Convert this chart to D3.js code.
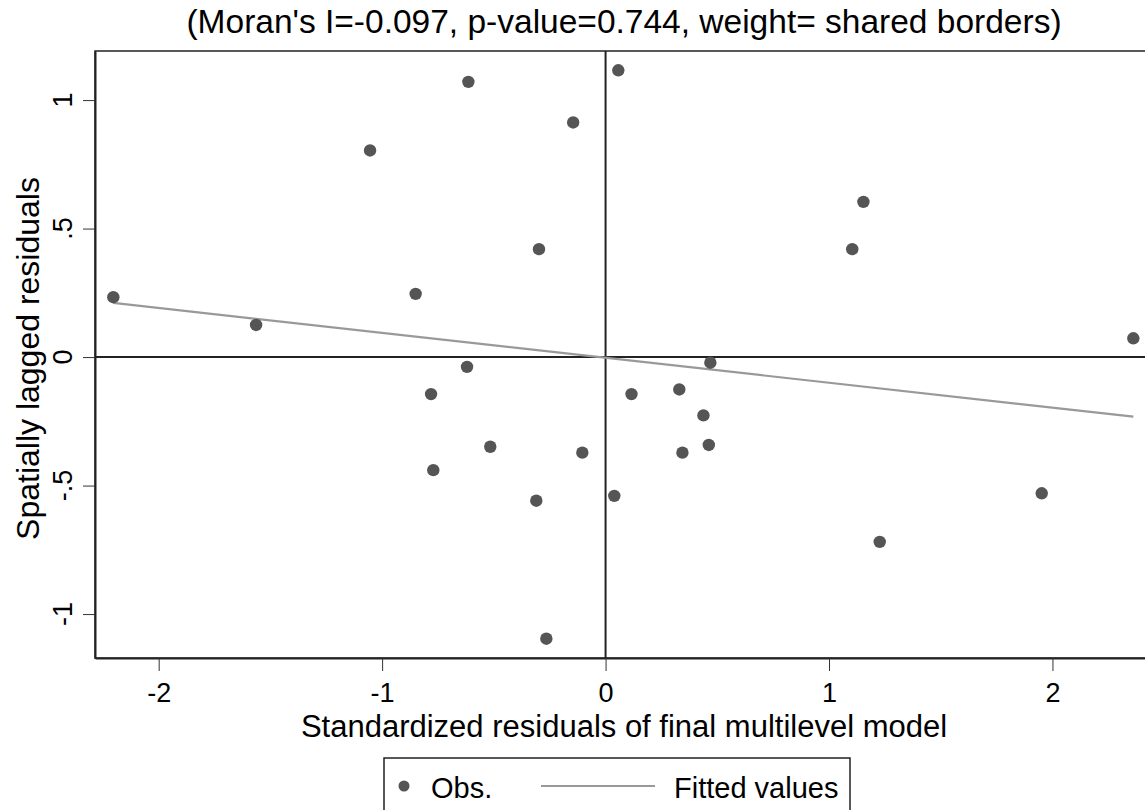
<!DOCTYPE html>
<html>
<head>
<meta charset="utf-8">
<script src="https://cdn.jsdelivr.net/npm/d3@7"></script>
<style>
	body { margin: 0; background: #fff; }
	svg { display: block; font-family: "Liberation Sans", Arial, sans-serif; }
</style>
</head>
<body>
<div id="chart"></div>
<script>
// observed residuals (x) and their spatial lags (y)
const obsX = [-2.203, -1.564, -1.054, -0.850, -0.614, -0.298, -0.145,
	0.057, 1.154, 1.104, 2.362,
	-0.620, -0.781, -0.516, -0.771, -0.104, -0.310, -0.265,
	0.469, 0.116, 0.330, 0.438, 0.344, 0.462, 0.039, 1.952, 1.227];
const obsY = [0.233, 0.125, 0.804, 0.246, 1.071, 0.420, 0.913,
	1.116, 0.604, 0.420, 0.073,
	-0.038, -0.144, -0.349, -0.440, -0.372, -0.559, -1.096,
	-0.022, -0.144, -0.126, -0.227, -0.372, -0.342, -0.540, -0.530, -0.719];

// fitted line end points
const fitX = [-2.203, 2.362];
const fitY = [0.211, -0.232];

// tick labels
const xTicks = [-2, -1, 0, 1, 2];
const xTickLabels = ["-2", "-1", "0", "1", "2"];
const yTicks = [-1, -0.5, 0, 0.5, 1];
const yTickLabels = ["-1", "-.5", "0", ".5", "1"];

const width = 1145;
const height = 810;

const svg = d3.select("#chart").append("svg")
	.attr("width", width)
	.attr("height", height);

// plot region (right edge runs past the picture)
const plotLeft = 95, plotRight = 1153, plotTop = 51, plotBottom = 658;

const x = d3.scaleLinear().domain([-2.285, 2.45]).range([plotLeft, plotRight]);
const y = d3.scaleLinear().domain([-1.171, 1.191]).range([plotBottom, plotTop]);

//title
svg.append("text")
	.attr("x", 624)
	.attr("y", 33)
	.attr("text-anchor", "middle")
	.style("font-size", "33.5px")
	.text("(Moran's I=-0.097, p-value=0.744, weight= shared borders)");

//plot border
svg.append("rect")
	.attr("x", plotLeft)
	.attr("y", plotTop)
	.attr("width", plotRight - plotLeft)
	.attr("height", plotBottom - plotTop)
	.attr("fill", "none")
	.attr("stroke", "#222")
	.attr("stroke-width", 1.5);

//reference lines at zero
svg.append("line")
	.attr("x1", x(0)).attr("x2", x(0))
	.attr("y1", plotTop).attr("y2", plotBottom)
	.attr("stroke", "#222").attr("stroke-width", 2);
svg.append("line")
	.attr("x1", plotLeft).attr("x2", plotRight)
	.attr("y1", y(0)).attr("y2", y(0))
	.attr("stroke", "#222").attr("stroke-width", 2);

//x axis
const xAxis = d3.axisBottom(x)
	.tickValues(xTicks)
	.tickSize(13)
	.tickSizeOuter(0)
	.tickPadding(12)
	.tickFormat((d, i) => xTickLabels[i]);

const gx = svg.append("g")
	.attr("transform", `translate(0,${plotBottom})`)
	.call(xAxis);
gx.select(".domain").attr("stroke", "#222").attr("stroke-width", 2);
gx.selectAll(".tick line").attr("stroke", "#333");
gx.selectAll(".tick text")
	.style("font-size", "27px")
	.style("font-family", "Liberation Sans, Arial, sans-serif")
	.attr("fill", "#000");

//y axis, labels turned like Stata does
const yAxis = d3.axisLeft(y)
	.tickValues(yTicks)
	.tickSize(12)
	.tickSizeOuter(0)
	.tickFormat("");

const gy = svg.append("g")
	.attr("transform", `translate(${plotLeft},0)`)
	.call(yAxis);
gy.select(".domain").attr("stroke", "#222").attr("stroke-width", 2);
gy.selectAll(".tick line").attr("stroke", "#333");

svg.selectAll(".ylabel")
	.data(yTicks)
	.enter()
	.append("text")
	.attr("class", "ylabel")
	.attr("transform", d => `translate(72,${y(d)}) rotate(-90)`)
	.attr("text-anchor", "middle")
	.style("font-size", "27px")
	.text((d, i) => yTickLabels[i]);

//axis titles
svg.append("text")
	.attr("x", 624)
	.attr("y", 737)
	.attr("text-anchor", "middle")
	.style("font-size", "31px")
	.text("Standardized residuals of final multilevel model");

svg.append("text")
	.attr("transform", `translate(39,${(plotTop + plotBottom) / 2 + 4}) rotate(-90)`)
	.attr("text-anchor", "middle")
	.style("font-size", "32px")
	.text("Spatially lagged residuals");

//fitted line
const line = d3.line()
	.x(d => x(d[0]))
	.y(d => y(d[1]));

svg.append("path")
	.datum(fitX.map((d, i) => [d, fitY[i]]))
	.attr("d", line)
	.attr("fill", "none")
	.attr("stroke", "#999")
	.attr("stroke-width", 2.2);

//observations
svg.selectAll(".obs")
	.data(obsX.map((d, i) => ({ x: d, y: obsY[i] })))
	.enter()
	.append("circle")
	.attr("class", "obs")
	.attr("cx", d => x(d.x))
	.attr("cy", d => y(d.y))
	.attr("r", 6.2)
	.attr("fill", "#555");

//legend
const legend = svg.append("g");

legend.append("rect")
	.attr("x", 384)
	.attr("y", 758)
	.attr("width", 466)
	.attr("height", 70)
	.attr("fill", "#fff")
	.attr("stroke", "#222")
	.attr("stroke-width", 1.5);

legend.append("circle")
	.attr("cx", 404)
	.attr("cy", 786)
	.attr("r", 5.5)
	.attr("fill", "#555");

legend.append("text")
	.attr("x", 431)
	.attr("y", 798)
	.style("font-size", "29px")
	.text("Obs.");

legend.append("line")
	.attr("x1", 541).attr("x2", 655)
	.attr("y1", 786).attr("y2", 786)
	.attr("stroke", "#999")
	.attr("stroke-width", 2.2);

legend.append("text")
	.attr("x", 674)
	.attr("y", 798)
	.style("font-size", "29px")
	.text("Fitted values");
</script>
</body>
</html>
